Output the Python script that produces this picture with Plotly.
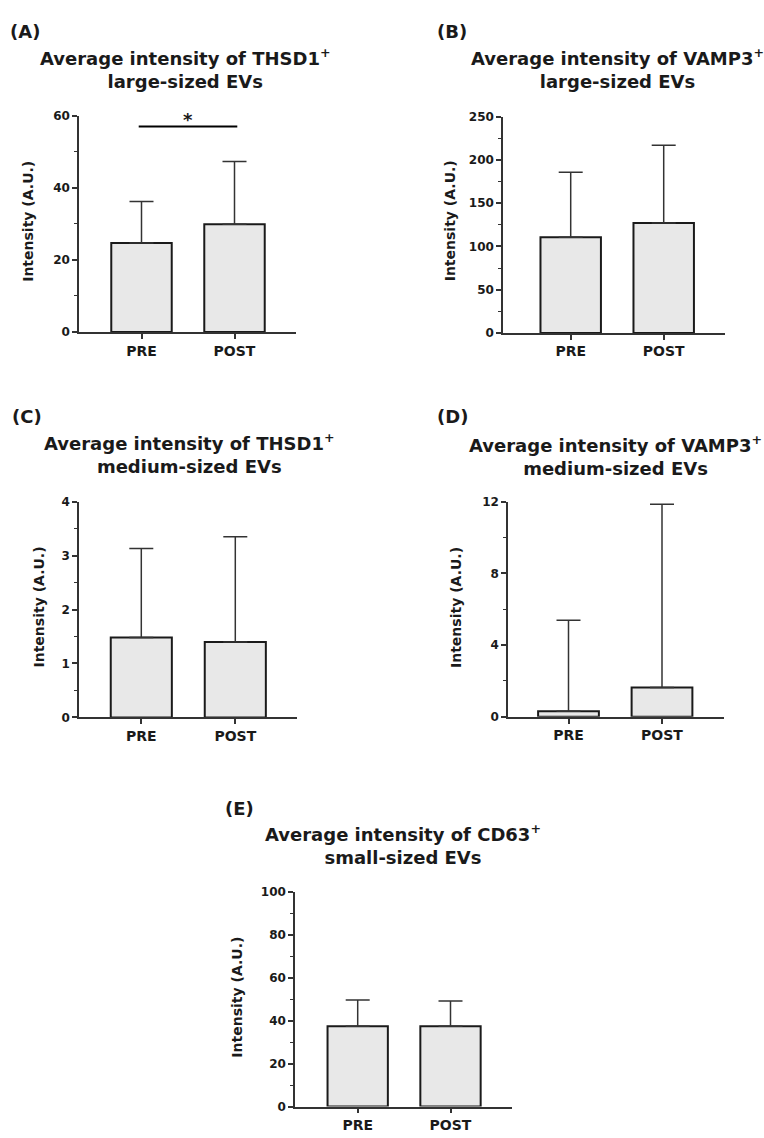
import plotly.graph_objects as go

# ---------------- data ----------------
categories = ["PRE", "POST"]

panel_letters = ["(A)", "(B)", "(C)", "(D)", "(E)"]
panel_titles = [
    "Average intensity of THSD1<sup>+</sup><br>large-sized EVs",
    "Average intensity of VAMP3<sup>+</sup><br>large-sized EVs",
    "Average intensity of THSD1<sup>+</sup><br>medium-sized EVs",
    "Average intensity of VAMP3<sup>+</sup><br>medium-sized EVs",
    "Average intensity of CD63<sup>+</sup><br>small-sized EVs",
]
y_title = "Intensity (A.U.)"

mean_A = [24.7, 29.9]
sd_A = [11.5, 17.4]
mean_B = [110.7, 127.0]
sd_B = [75.0, 89.9]
mean_C = [1.48, 1.40]
sd_C = [1.65, 1.95]
mean_D = [0.31, 1.63]
sd_D = [5.08, 10.22]
mean_E = [37.4, 37.4]
sd_E = [12.3, 11.8]

means = [mean_A, mean_B, mean_C, mean_D, mean_E]
sds = [sd_A, sd_B, sd_C, sd_D, sd_E]

y_max = [60, 250, 4, 12, 100]
y_dtick = [20, 50, 1, 4, 20]
y_minor = [10, 25, 0.5, 2, 10]

sig_label = "*"
sig_height_A = 57.0  # bracket level in panel A (data units)

# ---------------- layout (pixels) ----------------
W, H = 764, 1138
def fx(p): return p / W
def fy(p): return 1 - p / H

ax_x = [(79, 296), (503, 725), (79, 297), (508, 724), (295, 511.7)]
ax_y = [(110, 329), (111, 330), (500.7, 719.3), (500.7, 718.7), (896, 1113.3)]
bar_centers = [(141.5, 234.5), (570.7, 663.7), (141.3, 235.3), (568.5, 662.0), (357.7, 450.5)]
letter_pos = [(25, 25), (452, 25), (27, 415), (452, 415), (239, 811)]
title_pos = [(185, 62), (617, 62), (189, 452), (615, 454), (403, 848)]
ytitle_pos = [(28.5, 217), (450, 217), (39, 608), (455.5, 608), (237, 1002)]

FONT = "DejaVu Sans"
INK = "#1a1a1a"

fig = go.Figure()
layout = dict(
    width=W, height=H,
    margin=dict(l=0, r=0, t=0, b=0),
    paper_bgcolor="white", plot_bgcolor="white",
    showlegend=False,
    font=dict(family=FONT, color=INK, weight="bold"),
    annotations=[], shapes=[],
)

for i in range(5):
    n = "" if i == 0 else str(i + 1)
    xa, ya = "x" + n, "y" + n
    c0, c1 = bar_centers[i]
    step = c1 - c0
    xr = [(ax_x[i][0] - c0) / step, (ax_x[i][1] - c0) / step]
    bw = 0.65
    fig.add_trace(go.Bar(
        x=categories, y=means[i], xaxis=xa, yaxis=ya, width=bw,
        marker=dict(color="#e8e8e8", line=dict(color=INK, width=2)),
        error_y=dict(type="data", array=sds[i], arrayminus=[0] * len(sds[i]),
                     symmetric=False, color="#333333", thickness=1.5, width=12),
        hoverinfo="skip",
    ))
    layout["xaxis" + n] = dict(
        domain=[fx(ax_x[i][0]), fx(ax_x[i][1])], anchor=ya,
        type="category", range=xr, showline=True, linecolor="#333333", linewidth=1.5,
        ticks="outside", ticklen=5, tickwidth=1.5, tickcolor="#333333",
        showgrid=False, zeroline=False,
        tickfont=dict(family=FONT, size=14, color=INK, weight="bold"),
    )
    layout["yaxis" + n] = dict(
        domain=[fy(ax_y[i][1]), fy(ax_y[i][0])], anchor=xa,
        range=[0, y_max[i]], dtick=y_dtick[i], tick0=0,
        showline=True, linecolor="#333333", linewidth=1.5,
        ticks="outside", ticklen=5, tickwidth=1.5, tickcolor="#333333",
        minor=dict(dtick=y_minor[i], ticks="outside", ticklen=3, tickwidth=1.2, tickcolor="#333333"),
        showgrid=False, zeroline=False,
        tickfont=dict(family=FONT, size=12, color=INK, weight="bold"),
    )
    layout["annotations"].append(dict(
        text=panel_letters[i], x=fx(letter_pos[i][0]), y=fy(letter_pos[i][1]),
        xref="paper", yref="paper", showarrow=False, xanchor="center", yanchor="middle",
        font=dict(family=FONT, size=18, color=INK, weight="bold"),
    ))
    layout["annotations"].append(dict(
        text=panel_titles[i], x=fx(title_pos[i][0]), y=fy(title_pos[i][1]),
        xref="paper", yref="paper", showarrow=False, xanchor="center", yanchor="middle",
        align="center",
        font=dict(family=FONT, size=18, color=INK, weight="bold"),
    ))
    layout["annotations"].append(dict(
        text=y_title, x=fx(ytitle_pos[i][0]), y=fy(ytitle_pos[i][1]),
        xref="paper", yref="paper", showarrow=False, xanchor="center", yanchor="middle",
        textangle=-90,
        font=dict(family=FONT, size=14, color=INK, weight="bold"),
    ))

# significance bracket in panel A
layout["shapes"].append(dict(
    type="line", xref="x", yref="y", x0=-0.03, x1=1.03,
    y0=sig_height_A, y1=sig_height_A, line=dict(color="black", width=2),
))
layout["annotations"].append(dict(
    text=sig_label, xref="x", yref="y", x=0.5, y=sig_height_A,
    yanchor="bottom", showarrow=False, yshift=-6,
    font=dict(family=FONT, size=18, color=INK, weight="bold"),
))

fig.update_layout(**layout)
fig.write_html("out.html")
